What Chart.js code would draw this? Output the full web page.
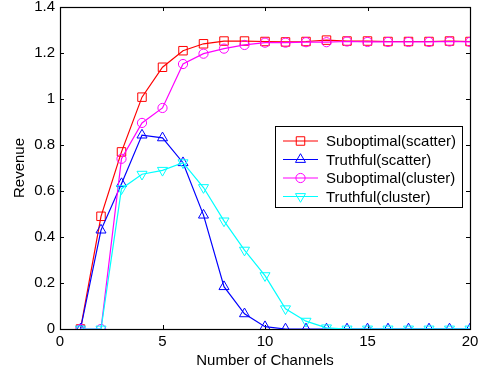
<!DOCTYPE html>
<html>
<head>
<meta charset="utf-8">
<script src="https://cdn.jsdelivr.net/npm/chart.js@4.4.1/dist/chart.umd.min.js"></script>
<style>
html,body{margin:0;padding:0;background:#fff;}
#wrap{width:482px;height:373px;position:relative;}
</style>
</head>
<body>
<div id="wrap"><canvas id="c" width="482" height="373"></canvas></div>
<script>
const channels = [1,2,3,4,5,6,7,8,9,10,11,12,13,14,15,16,17,18,19,20];
const subScatter = [0,0.49,0.77,1.008,1.138,1.21,1.24,1.252,1.252,1.25,1.248,1.25,1.256,1.252,1.252,1.25,1.25,1.25,1.252,1.25];
const truScatter = [0,0.43,0.632,0.843,0.831,0.723,0.495,0.184,0.066,0.01,0,0,0,0,0,0,0,0,0,0];
const subCluster = [0,0,0.74,0.896,0.961,1.152,1.197,1.219,1.235,1.245,1.245,1.247,1.247,1.25,1.248,1.248,1.248,1.248,1.25,1.248];
const truCluster = [0,0,0.61,0.673,0.69,0.723,0.615,0.47,0.343,0.232,0.088,0.034,0.005,0,0,0,0,0,0,0];
const seriesNames = ['Suboptimal(scatter)','Truthful(scatter)','Suboptimal(cluster)','Truthful(cluster)'];
const xTicks = [0,5,10,15,20];
const yTicks = [0,0.2,0.4,0.6,0.8,1,1.2,1.4];
const xTitle = 'Number of Channels';
const yTitle = 'Revenue';

const FONT = 'Liberation Sans, Arial, Helvetica, sans-serif';

function pts(arr){ return channels.map((x,i)=>({x:x,y:arr[i]})); }

const styles = [
  {color:'#ff0000', pointStyle:'rect', radius:6, rotation:0},
  {color:'#0000ff', pointStyle:'triangle', radius:5.8, rotation:0},
  {color:'#ff00ff', pointStyle:'circle', radius:4.6, rotation:0},
  {color:'#00ffff', pointStyle:'triangle', radius:5.8, rotation:180}
];
const seriesData = [subScatter, truScatter, subCluster, truCluster];

const datasets = seriesData.map((d,i)=>({
  label: seriesNames[i],
  data: pts(d),
  borderColor: styles[i].color,
  backgroundColor: 'rgba(0,0,0,0)',
  pointBackgroundColor: 'rgba(0,0,0,0)',
  pointBorderColor: styles[i].color,
  pointStyle: styles[i].pointStyle,
  pointRadius: styles[i].radius,
  pointRotation: styles[i].rotation,
  pointBorderWidth: 1,
  borderWidth: 1.2,
  tension: 0,
  order: 4 - i
}));

const axesPlugin = {
  id:'matlabAxes',
  beforeDatasetsDraw(chart){
    const {ctx, chartArea:a, scales} = chart;
    ctx.save();
    ctx.strokeStyle = '#000';
    ctx.lineWidth = 1.2;
    ctx.strokeRect(Math.round(a.left)+0.5, Math.round(a.top)+0.5, Math.round(a.right-a.left), Math.round(a.bottom-a.top));
    const tl = 4;
    ctx.lineWidth = 1;
    ctx.beginPath();
    xTicks.forEach(v=>{
      const x = Math.round(scales.x.getPixelForValue(v))+0.5;
      ctx.moveTo(x, a.bottom); ctx.lineTo(x, a.bottom-tl);
      ctx.moveTo(x, a.top); ctx.lineTo(x, a.top+tl);
    });
    yTicks.forEach(v=>{
      const y = Math.round(scales.y.getPixelForValue(v))+0.5;
      ctx.moveTo(a.left, y); ctx.lineTo(a.left+tl, y);
      ctx.moveTo(a.right, y); ctx.lineTo(a.right-tl, y);
    });
    ctx.stroke();
    ctx.restore();
  },
  afterDraw(chart){
    const {ctx, chartArea:a} = chart;
    ctx.save();
    const bx = a.right - 195, by = a.top + 119, bw = 187, bh = 81;
    ctx.fillStyle = '#fff';
    ctx.fillRect(bx, by, bw, bh);
    ctx.strokeStyle = '#000';
    ctx.lineWidth = 1;
    ctx.strokeRect(Math.round(bx)+0.5, Math.round(by)+0.5, bw, bh);
    ctx.font = '15px ' + FONT;
    ctx.textBaseline = 'middle';
    ctx.textAlign = 'left';
    seriesNames.forEach((n,i)=>{
      const y = by + 15 + i*18.5;
      const s = styles[i];
      ctx.strokeStyle = s.color;
      ctx.lineWidth = 1.2;
      ctx.beginPath();
      ctx.moveTo(bx+8, y); ctx.lineTo(bx+43, y);
      ctx.stroke();
      ctx.lineWidth = 1;
      ctx.fillStyle = 'rgba(0,0,0,0)';
      Chart.helpers.drawPoint(ctx, {pointStyle:s.pointStyle, radius:s.radius, rotation:s.rotation, borderWidth:1}, bx+25.5, y);
      ctx.fillStyle = '#000';
      ctx.fillText(n, bx+51, y+1);
    });
    ctx.restore();
  }
};

function noPad(s){ s.paddingTop = 0; s.paddingBottom = 0; s.paddingLeft = 0; s.paddingRight = 0; }

new Chart(document.getElementById('c'), {
  type:'line',
  data:{datasets},
  plugins:[axesPlugin],
  options:{
    responsive:false,
    animation:false,
    devicePixelRatio:1,
    layout:{padding:{left:0,right:12,top:5,bottom:0}},
    plugins:{legend:{display:false}, tooltip:{enabled:false}},
    scales:{
      x:{
        type:'linear', min:0, max:20,
        afterBuildTicks(s){ s.ticks = xTicks.map(v=>({value:v})); },
        afterFit(s){ s.height = 44; noPad(s); },
        grid:{display:false, drawTicks:false},
        border:{display:false},
        ticks:{color:'#000', font:{family:FONT, size:15}, padding:4, maxRotation:0,
          callback:(v)=>String(v)},
        title:{display:true, text:xTitle, color:'#000', font:{family:FONT, size:15}, padding:{top:0,bottom:3}}
      },
      y:{
        type:'linear', min:0, max:1.4,
        afterBuildTicks(s){ s.ticks = yTicks.map(v=>({value:v})); },
        afterFit(s){ s.width = 60; noPad(s); },
        grid:{display:false, drawTicks:false},
        border:{display:false},
        ticks:{color:'#000', font:{family:FONT, size:15}, padding:5,
          callback:(v)=>String(Number(v.toFixed(1)))},
        title:{display:true, text:yTitle, color:'#000', font:{family:FONT, size:15}, padding:{top:11,bottom:0}}
      }
    }
  }
});
</script>
</body>
</html>
